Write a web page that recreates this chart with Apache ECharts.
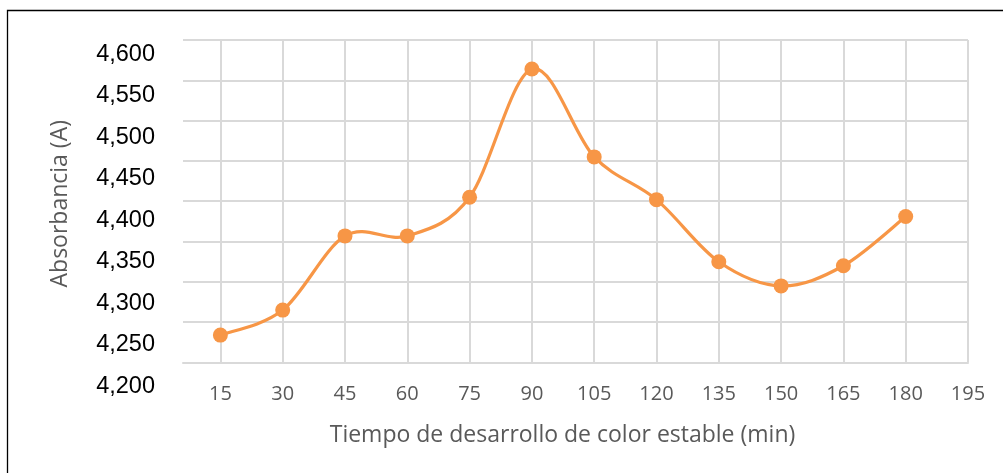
<!DOCTYPE html>
<html>
<head>
<meta charset="utf-8">
<script src="https://cdn.jsdelivr.net/npm/echarts@6/dist/echarts.min.js"></script>
<style>
  html, body { margin: 0; padding: 0; background: #fff; }
  #chart { width: 1003px; height: 473px; }
</style>
</head>
<body>
<div id="chart"></div>
<script>
// Development time (min) and measured absorbance
const times = [15, 30, 45, 60, 75, 90, 105, 120, 135, 150, 165, 180];
const absorbance = [4.234, 4.265, 4.357, 4.357, 4.405, 4.564, 4.455, 4.402, 4.325, 4.295, 4.320, 4.381];

// Axis tick labels
const xTicks = [15, 30, 45, 60, 75, 90, 105, 120, 135, 150, 165, 180, 195];
const yTickLabels = ['4,200', '4,250', '4,300', '4,350', '4,400', '4,450', '4,500', '4,550', '4,600'];

const points = times.map((t, i) => [t, absorbance[i]]);

const gridColor = '#d9d9d9';
const textGrey = '#595959';
const orange = '#f79646';

// Smoothed segment i -> i+1 (Catmull-Rom converted to a cubic Bezier)
function renderSegment(params, api) {
  const i = params.dataIndex;
  const n = points.length;
  if (i >= n - 1) return null;
  const p0 = api.coord(points[Math.max(i - 1, 0)]);
  const p1 = api.coord(points[i]);
  const p2 = api.coord(points[i + 1]);
  const p3 = api.coord(points[Math.min(i + 2, n - 1)]);
  return {
    type: 'bezierCurve',
    shape: {
      x1: p1[0], y1: p1[1],
      x2: p2[0], y2: p2[1],
      cpx1: p1[0] + (p2[0] - p0[0]) / 6,
      cpy1: p1[1] + (p2[1] - p0[1]) / 6,
      cpx2: p2[0] - (p3[0] - p1[0]) / 6,
      cpy2: p2[1] - (p3[1] - p1[1]) / 6
    },
    style: { fill: null, stroke: orange, lineWidth: 3.2, lineCap: 'round' }
  };
}

const chart = echarts.init(document.getElementById('chart'), null, { renderer: 'canvas' });

chart.setOption({
  animation: false,
  backgroundColor: '#ffffff',
  graphic: [{
    type: 'rect',
    shape: { x: 7.5, y: 10.5, width: 1100, height: 600 },
    style: { fill: 'none', stroke: '#000', lineWidth: 1.3 },
    silent: true,
    z: 10
  }],
  grid: [
    { left: 183, right: 35, top: 40, bottom: 110.5 },
    { left: 183, right: 35, top: 54.5, bottom: 86.5 }
  ],
  xAxis: [{
    gridIndex: 0,
    type: 'value',
    min: 6,
    max: 195,
    name: 'Tiempo de desarrollo de color estable (min)',
    nameLocation: 'middle',
    nameGap: 61,
    nameTextStyle: { fontFamily: 'Open Sans', fontSize: 23, color: textGrey, padding: [0, 26, 0, 0] },
    axisLine: { show: true, lineStyle: { color: gridColor, width: 2 } },
    axisTick: { show: false, customValues: xTicks },
    axisLabel: {
      customValues: xTicks,
      margin: 22,
      fontFamily: 'Open Sans',
      fontSize: 20,
      color: textGrey
    },
    splitLine: { show: true, lineStyle: { color: gridColor, width: 2 } }
  }, {
    gridIndex: 1,
    type: 'value',
    show: false
  }],
  yAxis: [{
    gridIndex: 0,
    type: 'value',
    min: 4.2,
    max: 4.6,
    interval: 0.05,
    name: 'Absorbancia (A)',
    nameLocation: 'middle',
    nameGap: 111,
    nameTextStyle: { fontFamily: 'Open Sans', fontSize: 23, color: textGrey, padding: [0, 5, 0, 0] },
    axisLine: { show: false },
    axisTick: { show: false },
    axisLabel: { show: false },
    splitLine: { show: true, lineStyle: { color: gridColor, width: 2 } }
  }, {
    gridIndex: 1,
    type: 'category',
    data: yTickLabels,
    boundaryGap: false,
    axisLine: { show: false },
    axisTick: { show: false },
    splitLine: { show: false },
    axisLabel: {
      margin: 28,
      fontFamily: 'Liberation Sans',
      fontSize: 23.5,
      color: '#000'
    }
  }],
  series: [{
    type: 'custom',
    xAxisIndex: 0,
    yAxisIndex: 0,
    data: points,
    renderItem: renderSegment,
    silent: true,
    z: 4
  }, {
    type: 'line',
    xAxisIndex: 0,
    yAxisIndex: 0,
    data: points,
    symbol: 'circle',
    symbolSize: 15,
    showAllSymbol: true,
    lineStyle: { width: 0, opacity: 0 },
    itemStyle: { color: orange },
    z: 5
  }]
});
</script>
</body>
</html>
